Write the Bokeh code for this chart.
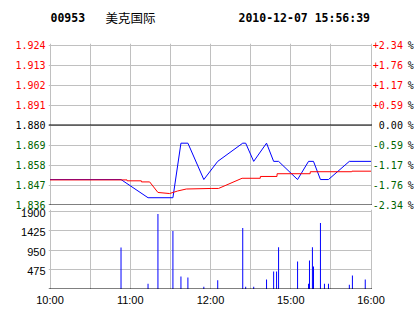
from bokeh.plotting import figure
from bokeh.layouts import column, row
from bokeh.models import Range1d, FixedTicker, Span, ColumnDataSource
from bokeh.core.properties import value
from bokeh.embed import file_html
from bokeh.resources import INLINE

# ---------------- data ----------------
stock_code = "00953"
stock_name = "美克国际"
timestamp = "2010-12-07 15:56:39"

# trading minutes from 10:00 (lunch break removed); 240 = 16:00
time_ticks = [0, 60, 120, 180, 240]
time_labels = ["10:00", "11:00", "12:00", "15:00", "16:00"]
grid_minutes = [0, 30, 60, 90, 120, 150, 180, 210, 240]

prev_close = 1.880
price_ticks = [1.924, 1.913, 1.902, 1.891, 1.880, 1.869, 1.858, 1.847, 1.836]
price_labels = ["1.924", "1.913", "1.902", "1.891", "1.880", "1.869", "1.858", "1.847", "1.836"]
pct_labels = ["+2.34", "+1.76", "+1.17", "+0.59", "0.00", "-0.59", "-1.17", "-1.76", "-2.34"]

price_t = [0, 53.1, 73.3, 91.9, 97.9, 103.1, 115.0, 125.4, 144.1, 146.3, 152.3, 161.9,
           167.2, 170.9, 185.1, 193.3, 197.0, 202.2, 208.2, 223.8, 240]
price_v = [1.85, 1.85, 1.84, 1.84, 1.87, 1.87, 1.85, 1.86, 1.87, 1.87, 1.86, 1.87,
           1.86, 1.86, 1.85, 1.86, 1.86, 1.85, 1.85, 1.86, 1.86]

avg_t = [0, 57.6, 57.7, 68.3, 68.4, 74.5, 80.7, 89.4, 95.4, 101.9, 120.5, 126.0, 143.6,
         157.2, 157.3, 169.7, 169.8, 194.5, 194.6, 225.6, 225.7, 240]
avg_v = [1.8498, 1.8498, 1.8493, 1.8493, 1.8487, 1.8487, 1.8429, 1.8423, 1.8437, 1.8448,
         1.8451, 1.8451, 1.8507, 1.8507, 1.8517, 1.8517, 1.8532, 1.8532, 1.8543, 1.8543,
         1.8546, 1.8546]

vol_t = [53.1, 73.3, 80.7, 91.9, 97.9, 103.1, 115.0, 125.4, 144.1, 146.3, 152.3, 161.9,
         167.2, 169.4, 170.9, 185.1, 193.3, 194.0, 196.2, 197.0, 202.2, 205.2, 208.2,
         223.8, 226.1, 235.7]
vol_v = [1010, 130, 1828, 1410, 303, 278, 57, 212, 1483, 57, 57, 229,
         426, 426, 1016, 672, 130, 696, 1016, 549, 1606, 130, 130,
         106, 327, 229]
vol_ticks = [475, 950, 1425, 1900]
vol_labels = ["475", "950", "1425", "1900"]

RED = "#ff0000"
GREEN = "#006400"
BLUE = "#0000ff"
GRID = "#c0c0c0"
MONO = "DejaVu Sans Mono"
SANS = "Liberation Sans"

# ---------------- pixel layout ----------------
LEFT_W, MID_W, RIGHT_W = 48, 324, 42
HDR_H, PRICE_H, VOL_H, AXIS_H = 43, 162, 84, 25
UPPER_H = HDR_H + PRICE_H + VOL_H          # 289

px_per_min = 321 / 240.0                    # 10:00 at x=49.5, 16:00 at x=370.5
x_rng = Range1d(-1.5 / px_per_min, 240 + 1.5 / px_per_min)

px_per_price = 80 / 0.044                   # 1.924 at y=44.5, 1.880 at 124.5, 1.836 at 204.5
y_rng = Range1d(1.836 - 0.5 / px_per_price, 1.924 + 1.5 / px_per_price)
side_price_rng = Range1d(1.836 - (UPPER_H - 204.5) / px_per_price, 1.924 + 44.5 / px_per_price)

px_per_vol = 78 / 1900.0                    # 1900 at y=210.5, 0 at y=288.5
vol_rng = Range1d(-0.5 / px_per_vol, 1900 + 1.5 / px_per_vol)
side_vol_rng = Range1d(-(UPPER_H - 288.5) / px_per_vol, 1900 + 210.5 / px_per_vol)


def bare(width, height, x_range, y_range, **kw):
    return figure(width=width, height=height, x_range=x_range, y_range=y_range,
                  toolbar_location=None, output_backend="svg",
                  x_axis_location=None, y_axis_location=None, outline_line_color=None,
                  min_border=0, **kw)


# ---------------- header ----------------
hdr = bare(MID_W, HDR_H, Range1d(LEFT_W, LEFT_W + MID_W), Range1d(HDR_H, 0))
hdr.grid.visible = False
hsrc = ColumnDataSource(dict(x=[50, 238], y=[17, 17], t=[stock_code, timestamp]))
hdr.text(x="x", y="y", text="t", source=hsrc, text_font=value(MONO), text_font_style="bold",
         text_font_size="11.5px", text_baseline="middle", text_align="left", text_color="black")
hdr.text(x=[105], y=[17], text=[stock_name], text_font=value("Noto Sans CJK SC"),
         text_font_size="12.5px", text_baseline="middle", text_align="left", text_color="black")

# ---------------- price chart ----------------
pc = bare(MID_W, PRICE_H, x_rng, y_rng)
pc.xgrid.ticker = FixedTicker(ticks=grid_minutes)
pc.ygrid.ticker = FixedTicker(ticks=price_ticks)
for g in (pc.xgrid, pc.ygrid):
    g.grid_line_color = GRID
    g.grid_line_alpha = 1.0
pc.add_layout(Span(location=prev_close, dimension="width", line_color="black", line_width=1))
pc.add_layout(Span(location=price_ticks[-1], dimension="width", line_color="black", line_width=1))
pc.line(price_t, price_v, line_color=BLUE, line_width=1)
pc.line(avg_t, avg_v, line_color=RED, line_width=1)

# ---------------- volume chart ----------------
vc = figure(width=MID_W, height=VOL_H, x_range=x_rng, y_range=vol_rng,
            toolbar_location=None, output_backend="svg",
            x_axis_location=None, y_axis_location=None, outline_line_color=None,
            min_border_left=0, min_border_right=0, min_border_bottom=0, min_border_top=VOL_H - 80)
vc.xgrid.ticker = FixedTicker(ticks=grid_minutes)
vc.ygrid.ticker = FixedTicker(ticks=vol_ticks)
for g in (vc.xgrid, vc.ygrid):
    g.grid_line_color = GRID
    g.grid_line_alpha = 1.0
vc.add_layout(Span(location=0, dimension="width", line_color="black", line_width=1))
vc.vbar(x=vol_t, top=vol_v, bottom=0, width=1 / px_per_min, fill_color=BLUE, line_color=None)

# ---------------- left labels column ----------------
label_colors = [RED if v > prev_close + 1e-9 else (GREEN if v < prev_close - 1e-9 else "black")
                for v in price_ticks]
n = len(price_ticks)
lf = bare(LEFT_W, UPPER_H, Range1d(0, LEFT_W), side_price_rng)
lf.extra_y_ranges = {"vol": side_vol_rng}
lf.grid.visible = False
lsrc = ColumnDataSource(dict(x=[45] * n, y=price_ticks, t=price_labels, c=label_colors))
lf.text(x="x", y="y", text="t", text_color="c", source=lsrc, text_font=value(MONO),
        text_font_size="10px", text_baseline="middle", text_align="right")
vsrc = ColumnDataSource(dict(x=[45] * len(vol_ticks), y=vol_ticks, t=vol_labels))
lf.text(x="x", y="y", text="t", source=vsrc, y_range_name="vol", text_color="black",
        text_font=value(SANS), text_font_size="11px", text_baseline="middle",
        text_align="right", y_offset=1.5)

# ---------------- right labels column ----------------
char_w = 6.02
rf = bare(RIGHT_W, UPPER_H, Range1d(0, RIGHT_W), side_price_rng)
rf.grid.visible = False
rx = [0.3 if s[0] in "+-" else 0.3 + char_w for s in pct_labels]
rsrc = ColumnDataSource(dict(x=rx, y=price_ticks, t=pct_labels, c=label_colors))
rf.text(x="x", y="y", text="t", text_color="c", source=rsrc, text_font=value(MONO),
        text_font_size="10px", text_baseline="middle", text_align="left")
psrc = ColumnDataSource(dict(x=[6 * char_w - 0.8] * n, y=price_ticks, t=["%"] * n))
rf.text(x="x", y="y", text="t", source=psrc, text_color="black", text_font=value(MONO),
        text_font_size="10px", text_baseline="middle", text_align="left")

# ---------------- time axis ----------------
xa = figure(width=LEFT_W + MID_W + RIGHT_W, height=AXIS_H, x_range=x_rng, y_range=Range1d(0, 1),
            toolbar_location=None, output_backend="svg", y_axis_location=None,
            outline_line_color=None, min_border_left=LEFT_W, min_border_right=RIGHT_W,
            min_border_top=0, min_border_bottom=AXIS_H - 1)
xa.grid.visible = False
xa.xaxis.ticker = FixedTicker(ticks=time_ticks)
xa.xaxis.major_label_overrides = {t: s for t, s in zip(time_ticks, time_labels)}
ax = xa.xaxis[0]
ax.axis_line_color = None
ax.major_tick_line_color = None
ax.minor_tick_line_color = None
ax.major_tick_in = 0
ax.major_tick_out = 0
ax.minor_tick_out = 0
ax.major_label_text_font = SANS
ax.major_label_text_font_size = "11px"
ax.major_label_text_color = "black"
ax.major_label_standoff = 3

layout = column(row(lf, column(hdr, pc, vc), rf), xa)

open("out.html", "w").write(file_html(layout, INLINE))
